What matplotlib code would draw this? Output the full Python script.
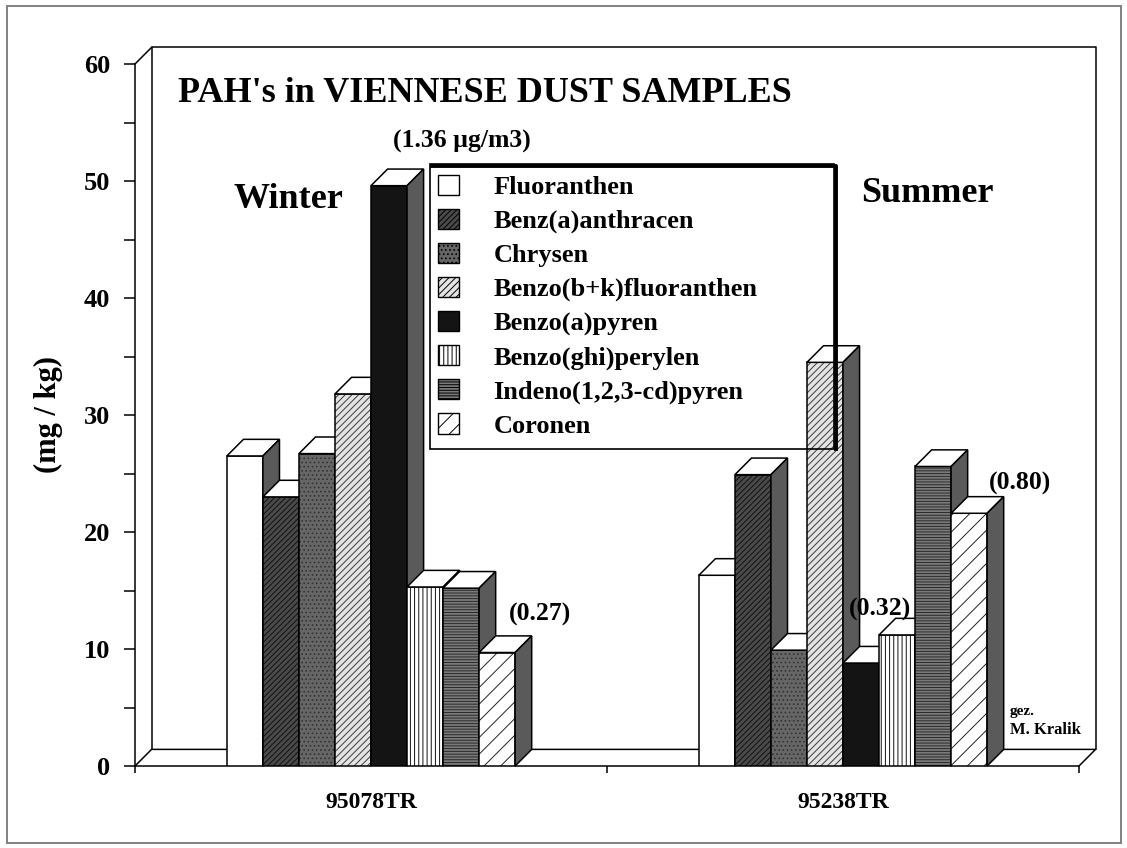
import matplotlib
matplotlib.use("Agg")
import matplotlib.pyplot as plt
from matplotlib.patches import Rectangle, Polygon, Patch
from matplotlib.lines import Line2D
from matplotlib.ticker import MultipleLocator

# -----------------------------
# DATA
# -----------------------------
samples = ["95078TR", "95238TR"]
seasons = ["Winter", "Summer"]
compounds = ["Fluoranthen", "Benz(a)anthracen", "Chrysen", "Benzo(b+k)fluoranthen",
             "Benzo(a)pyren", "Benzo(ghi)perylen", "Indeno(1,2,3-cd)pyren", "Coronen"]
winter = [26.5, 23.0, 26.7, 31.8, 49.6, 15.3, 15.2, 9.7]
summer = [16.3, 24.9, 9.9, 34.5, 8.8, 11.2, 25.6, 21.6]
values = [winter, summer]

# notes written next to some bars: (sample, compound, text)
notes = [(0, 4, "(1.36 \u00b5g/m3)"), (0, 7, "(0.27)"), (1, 4, "(0.32)"), (1, 7, "(0.80)")]
note_offsets = [(55, 44), (25, 38), (1, 54), (33, 30)]   # pixels from bar top-right

# -----------------------------
# STYLE
# -----------------------------
W_PX, H_PX = 1127, 848
FONT = "Liberation Serif"
plt.rcParams["font.family"] = [FONT, "DejaVu Serif"]
plt.rcParams["font.weight"] = "bold"
plt.rcParams["hatch.linewidth"] = 0.7

# facecolor, hatch, hatch colour
styles = [
    ("white", None, None),
    ("#4a4a4a", "//////", "#111111"),
    ("#666666", "....", "#333333"),
    ("#e4e4e4", "/////", "#3a3a3a"),
    ("#141414", None, None),
    ("white", "||||", "#111111"),
    ("#7a7a7a", "------", "#2a2a2a"),
    ("white", "//", "#222222"),
]
SIDE = "#5a5a5a"

CAT_W = 13.1          # width of one sample slot in bar widths
XMAX = CAT_W * len(samples)
YMAX = 60
DX, DY = 0.46, 1.42   # depth of the pseudo 3d look (x units, y units)


def px(x, y):
    return x / W_PX, 1 - y / H_PX


fig = plt.figure(figsize=(W_PX / 100, H_PX / 100), dpi=100)
fig.patch.set_facecolor("white")
l, b = px(135, 766)
r, t = px(1079, 64)
ax = fig.add_axes([l, b, r - l, t - b])
ax.set_xlim(0, XMAX)
ax.set_ylim(0, YMAX)
ax.patch.set_alpha(0)

# back wall, floor and side wall
k = dict(color="black", lw=1.1, clip_on=False, zorder=1)
ax.plot([DX, DX, XMAX + DX, XMAX + DX], [DY, YMAX + DY, YMAX + DY, DY], **k)
ax.plot([0, DX, XMAX + DX, XMAX], [0, DY, DY, 0], **k)
ax.plot([0, DX], [YMAX, YMAX + DY], **k)

# bars
for s, vals in enumerate(values):
    center = (s + 0.5) * CAT_W
    for i, h in enumerate(vals):
        x0 = center - len(vals) / 2 + i
        fc, hatch, hc = styles[i]
        z = 5 + s * 40 + i * 4
        ax.add_patch(Rectangle((x0, 0), 1, h, fc=fc, ec="none", zorder=z))
        if hatch:
            ax.add_patch(Rectangle((x0, 0), 1, h, fc="none", ec=hc, lw=0,
                                   hatch=hatch, zorder=z + 0.5))
        ax.add_patch(Rectangle((x0, 0), 1, h, fc="none", ec="black", lw=1.1, zorder=z + 1))
        ax.add_patch(Polygon([(x0, h), (x0 + 1, h), (x0 + 1 + DX, h + DY), (x0 + DX, h + DY)],
                             closed=True, fc="white", ec="black", lw=1.1, zorder=z + 1,
                             clip_on=False))
        ax.add_patch(Polygon([(x0 + 1, 0), (x0 + 1 + DX, DY), (x0 + 1 + DX, h + DY), (x0 + 1, h)],
                             closed=True, fc=SIDE, ec="black", lw=1.1, zorder=z + 1,
                             clip_on=False))

# notes
for (s, i, txt), (ox, oy) in zip(notes, note_offsets):
    x0 = (s + 0.5) * CAT_W - len(compounds) / 2 + i
    ax.annotate(txt, xy=(x0 + 1, values[s][i]), xytext=(ox, oy), textcoords="offset pixels",
                ha="center", va="center", fontsize=18.5, fontweight="bold", zorder=200,
                annotation_clip=False)

# axes
for sp in ["top", "right"]:
    ax.spines[sp].set_visible(False)
ax.spines["left"].set_linewidth(1.1)
ax.spines["bottom"].set_linewidth(1.1)
ax.set_yticks(range(0, YMAX + 1, 10))
ax.yaxis.set_minor_locator(MultipleLocator(5))
ax.tick_params(axis="y", which="both", direction="out", length=8, width=1.1,
               labelsize=19, pad=10)
ax.set_xticks([(s + 0.5) * CAT_W for s in range(len(samples))], samples)
ax.set_xticks([0, CAT_W, XMAX], minor=True)
ax.tick_params(axis="x", which="major", length=0, labelsize=17, pad=19)
ax.tick_params(axis="x", which="minor", direction="out", length=5, width=1.1)

fig.text(*px(48, 415), "(mg / kg)", rotation=90, ha="center", va="center", fontsize=22)
fig.text(*px(178, 93), "PAH's in VIENNESE DUST SAMPLES", ha="left", va="center", fontsize=26)
fig.text(*px(288, 199), seasons[0], ha="center", va="center", fontsize=26)
fig.text(*px(927, 194), seasons[1], ha="center", va="center", fontsize=26)
fig.text(*px(1010, 712), "gez.", ha="left", va="center", fontsize=11)
fig.text(*px(1010, 730), "M. Kralik", ha="left", va="center", fontsize=12)

# legend with a hand drawn box
handles = [Patch(facecolor=fc, edgecolor="black", hatch=hatch, lw=1.0)
           for fc, hatch, hc in styles]
fig.legend(handles, compounds, loc="upper left", bbox_to_anchor=px(438, 175),
           frameon=False, prop={"family": FONT, "weight": "bold", "size": 19},
           handlelength=0.8, handleheight=0.8, handletextpad=1.3, labelspacing=0.36,
           borderpad=0, borderaxespad=0)
bl = px(430, 449)
tr = px(834, 164)
fig.add_artist(Rectangle(bl, tr[0] - bl[0], tr[1] - bl[1], transform=fig.transFigure,
                         fill=False, ec="black", lw=1.2, zorder=300))
fig.add_artist(Line2D([px(432, 0)[0], px(836, 0)[0], px(836, 0)[0]],
                      [px(0, 166)[1], px(0, 166)[1], px(0, 449)[1]],
                      transform=fig.transFigure, color="black", lw=2.8, zorder=300))

# outer frame
fl = px(7, 843)
fr = px(1121, 6)
fig.add_artist(Rectangle(fl, fr[0] - fl[0], fr[1] - fl[1], transform=fig.transFigure,
                         fill=False, ec="#777777", lw=1.3))

fig.savefig("out.png", dpi=100)
